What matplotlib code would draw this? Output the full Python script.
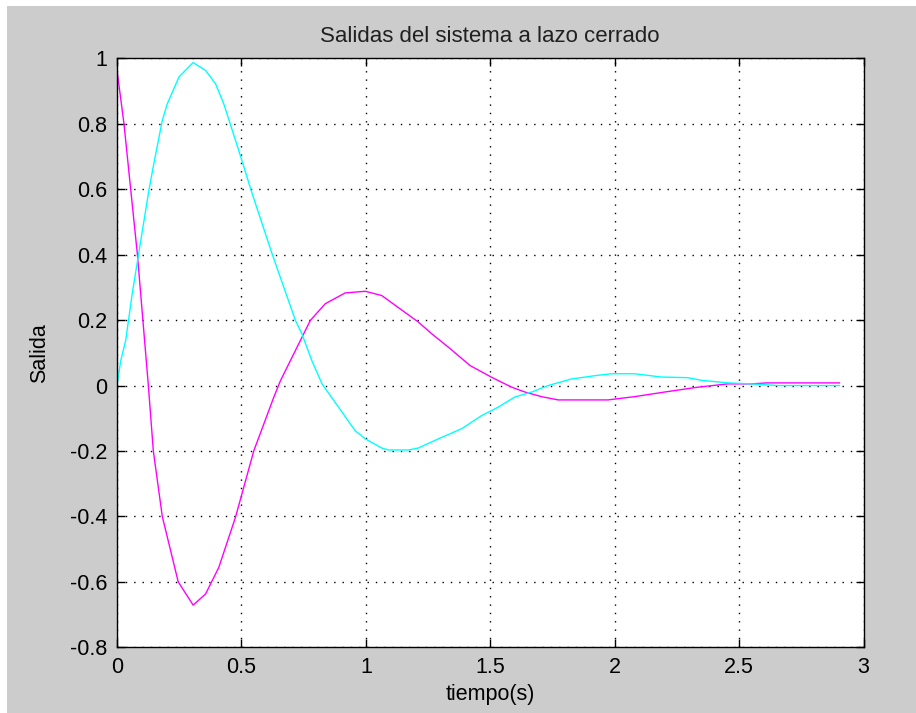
import matplotlib
matplotlib.use('Agg')
import matplotlib.pyplot as plt
from matplotlib.patches import Rectangle

# closed-loop outputs
t_mag = [0, 0.028, 0.055, 0.082, 0.104, 0.126, 0.146, 0.182, 0.246, 0.306,
         0.356, 0.409, 0.476, 0.55, 0.63, 0.657, 0.73, 0.777, 0.837, 0.917,
         0.998, 1.064, 1.131, 1.211, 1.265, 1.332, 1.419, 1.506, 1.586, 1.64,
         1.706, 1.773, 1.973, 2.08, 2.2, 2.335, 2.455, 2.55, 2.61, 2.903]
y_mag = [0.964, 0.80, 0.60, 0.40, 0.20, 0.0, -0.20, -0.40, -0.60, -0.671,
         -0.637, -0.556, -0.403, -0.199, -0.036, 0.015, 0.127, 0.199, 0.25, 0.283,
         0.288, 0.275, 0.238, 0.194, 0.158, 0.117, 0.061, 0.025, -0.005, -0.02,
         -0.034, -0.044, -0.044, -0.034, -0.02, -0.005, 0.005, 0.005, 0.008, 0.008]

t_cyan = [0, 0.015, 0.035, 0.061, 0.085, 0.128, 0.148, 0.182, 0.202, 0.249,
          0.306, 0.356, 0.396, 0.429, 0.489, 0.543, 0.623, 0.717, 0.743, 0.783,
          0.824, 0.89, 0.957, 0.998, 1.064, 1.091, 1.171, 1.211, 1.291, 1.385,
          1.465, 1.532, 1.599, 1.666, 1.733, 1.826, 1.92, 1.987, 2.08, 2.187,
          2.294, 2.348, 2.455, 2.55, 2.655, 2.903]
y_cyan = [0.0, 0.076, 0.138, 0.28, 0.393, 0.596, 0.678, 0.81, 0.861, 0.943,
          0.987, 0.963, 0.922, 0.861, 0.719, 0.587, 0.403, 0.199, 0.158, 0.076,
          0.005, -0.066, -0.138, -0.163, -0.191, -0.197, -0.197, -0.191, -0.163, -0.132,
          -0.092, -0.066, -0.035, -0.02, 0.0, 0.02, 0.03, 0.036, 0.036, 0.026,
          0.024, 0.016, 0.008, 0.005, 0.0, 0.0]

x_ticks = [0, 0.5, 1, 1.5, 2, 2.5, 3]
x_labels = ['0', '0.5', '1', '1.5', '2', '2.5', '3']
y_ticks = [-0.8, -0.6, -0.4, -0.2, 0, 0.2, 0.4, 0.6, 0.8, 1]
y_labels = ['-0.8', '-0.6', '-0.4', '-0.2', '0', '0.2', '0.4', '0.6', '0.8', '1']

plt.rcParams['font.family'] = ['Liberation Sans', 'DejaVu Sans']

W, H = 916, 713
fig = plt.figure(figsize=(W / 100, H / 100), dpi=100, facecolor='white')
fig.patches.append(Rectangle((7 / W, 0), 1 - 7 / W, 1 - 6 / H, transform=fig.transFigure,
                             facecolor='#cccccc', edgecolor='none', zorder=-10))

ax = fig.add_axes([117 / W, 1 - 647.3 / H, 746.5 / W, 589 / H])
ax.plot(t_mag, y_mag, color='#ff00ff', lw=1.0)
ax.plot(t_cyan, y_cyan, color='#00ffff', lw=1.0)

ax.set_xlim(0, 3)
ax.set_ylim(-0.8, 1)
ax.set_xticks(x_ticks)
ax.set_xticklabels(x_labels)
ax.set_yticks(y_ticks)
ax.set_yticklabels(y_labels)
ax.tick_params(direction='in', length=6, width=1, top=True, right=True,
               labelsize=15.5, colors='black', pad=7)
ax.grid(True, color='black', linestyle=(0, (1, 5)), linewidth=1.0)
for s in ax.spines.values():
    s.set_linewidth(1.0)

ax.set_title('Salidas del sistema a lazo cerrado', fontsize=16, pad=12, color='#202020')
ax.set_xlabel('tiempo(s)', fontsize=15.5, labelpad=4)
ax.set_ylabel('Salida', fontsize=15.5, labelpad=14)

fig.savefig('out.png', dpi=100, facecolor=fig.get_facecolor())
